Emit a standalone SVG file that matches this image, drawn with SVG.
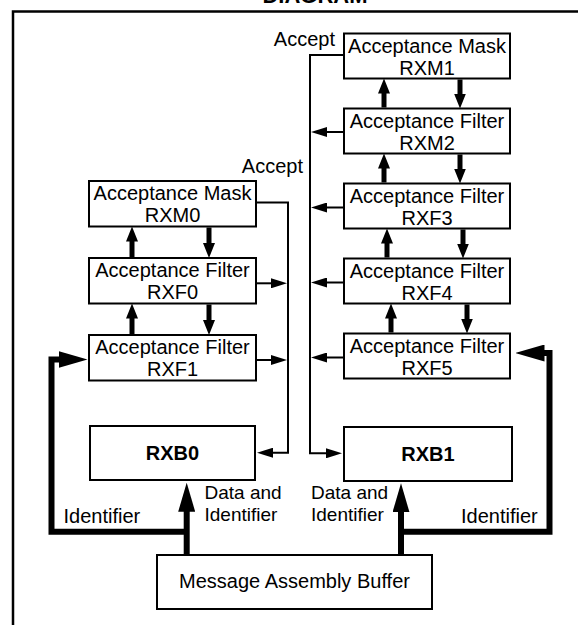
<svg xmlns="http://www.w3.org/2000/svg" width="578" height="625" viewBox="0 0 578 625">
<style>
text{font-family:"Liberation Sans",Arial,Helvetica,sans-serif;font-size:20px;fill:#000}
.c{text-anchor:middle}
.e{text-anchor:end}
.b{font-weight:bold}
.s{font-size:19px}
.box{fill:#fff;stroke:#000;stroke-width:2}
.thin{fill:none;stroke:#000;stroke-width:2}
.bold{fill:none;stroke:#000;stroke-width:5}
.thick{fill:none;stroke:#000;stroke-width:6;stroke-linejoin:miter}
.frame{fill:none;stroke:#000;stroke-width:2.5}
</style>
<defs>
<marker id="mThin" markerUnits="userSpaceOnUse" markerWidth="16" markerHeight="10" viewBox="0 0 16 10" refX="8" refY="5" orient="auto"><path d="M0,0 L16,5 L0,10 z"/></marker>
<marker id="mBold" markerUnits="userSpaceOnUse" markerWidth="15" markerHeight="12" viewBox="0 0 15 12" refX="7" refY="6" orient="auto"><path d="M0,0 L15,6 L0,12 z"/></marker>
<marker id="mThick" markerUnits="userSpaceOnUse" markerWidth="29" markerHeight="17" viewBox="0 0 29 17" refX="15" refY="8.5" orient="auto"><path d="M0,0 L29,8.5 L0,17 z"/></marker>
</defs>

<text class="c b" x="315" y="2.5" style="font-size:22px">DIAGRAM</text>
<path class="frame" d="M13,625 V11.5 H578"/>

<g id="connectors">
  <!-- right column bold arrows -->
  <line class="bold" x1="384" y1="107.5" x2="384" y2="86.5" marker-end="url(#mBold)"/>
  <line class="bold" x1="460" y1="79.5" x2="460" y2="100.5" marker-end="url(#mBold)"/>
  <line class="bold" x1="384" y1="182.5" x2="384" y2="161.5" marker-end="url(#mBold)"/>
  <line class="bold" x1="460" y1="154.5" x2="460" y2="175.5" marker-end="url(#mBold)"/>
  <line class="bold" x1="387" y1="257.5" x2="387" y2="236.5" marker-end="url(#mBold)"/>
  <line class="bold" x1="463" y1="229.5" x2="463" y2="250.5" marker-end="url(#mBold)"/>
  <line class="bold" x1="391" y1="332.5" x2="391" y2="311.5" marker-end="url(#mBold)"/>
  <line class="bold" x1="467" y1="304.5" x2="467" y2="325.5" marker-end="url(#mBold)"/>
  <!-- left column bold arrows -->
  <line class="bold" x1="132" y1="257" x2="132" y2="234.5" marker-end="url(#mBold)"/>
  <line class="bold" x1="209" y1="227.5" x2="209" y2="250" marker-end="url(#mBold)"/>
  <line class="bold" x1="132" y1="334" x2="132" y2="311.5" marker-end="url(#mBold)"/>
  <line class="bold" x1="209" y1="304.5" x2="209" y2="327" marker-end="url(#mBold)"/>
  <!-- accept bus for RXB1 -->
  <path class="thin" d="M343,55 H310 V453.3 H334" marker-end="url(#mThin)"/>
  <line class="thin" x1="343" y1="132" x2="319" y2="132" marker-end="url(#mThin)"/>
  <line class="thin" x1="343" y1="207.5" x2="319" y2="207.5" marker-end="url(#mThin)"/>
  <line class="thin" x1="343" y1="282.5" x2="319" y2="282.5" marker-end="url(#mThin)"/>
  <line class="thin" x1="343" y1="357.5" x2="319" y2="357.5" marker-end="url(#mThin)"/>
  <!-- accept bus for RXB0 -->
  <path class="thin" d="M257,202.5 H288 V452.7 H265" marker-end="url(#mThin)"/>
  <line class="thin" x1="257" y1="283.3" x2="279" y2="283.3" marker-end="url(#mThin)"/>
  <line class="thin" x1="257" y1="360" x2="279" y2="360" marker-end="url(#mThin)"/>
  <!-- thick data/identifier paths -->
  <line class="thick" x1="186.7" y1="554" x2="186.7" y2="496.7" marker-end="url(#mThick)"/>
  <path class="thick" d="M186.7,531.7 H51.5 V359.5 H73.5" marker-end="url(#mThick)"/>
  <line class="thick" x1="401" y1="554" x2="401" y2="497.3" marker-end="url(#mThick)"/>
  <path class="thick" d="M401,531.7 H549.5 V353 H529.5" marker-end="url(#mThick)"/>
</g>

<g id="rxm1"><rect class="box" x="344" y="33.5" width="166" height="45"/><text class="c" x="427" y="52.5">Acceptance Mask</text><text class="c" x="427" y="74.5">RXM1</text></g>
<g id="rxm2"><rect class="box" x="344" y="108.5" width="166" height="45"/><text class="c" x="427" y="127.5">Acceptance Filter</text><text class="c" x="427" y="149.5">RXM2</text></g>
<g id="rxf3"><rect class="box" x="344" y="183.5" width="166" height="45"/><text class="c" x="427" y="202.5">Acceptance Filter</text><text class="c" x="427" y="224.5">RXF3</text></g>
<g id="rxf4"><rect class="box" x="344" y="258.5" width="166" height="45"/><text class="c" x="427" y="277.5">Acceptance Filter</text><text class="c" x="427" y="299.5">RXF4</text></g>
<g id="rxf5"><rect class="box" x="344" y="333.5" width="166" height="45"/><text class="c" x="427" y="352.5">Acceptance Filter</text><text class="c" x="427" y="374.5">RXF5</text></g>

<g id="rxm0"><rect class="box" x="89" y="181" width="167" height="45.5"/><text class="c" x="172.5" y="200">Acceptance Mask</text><text class="c" x="172.5" y="222">RXM0</text></g>
<g id="rxf0"><rect class="box" x="89" y="258" width="167" height="45.5"/><text class="c" x="172.5" y="277">Acceptance Filter</text><text class="c" x="172.5" y="299">RXF0</text></g>
<g id="rxf1"><rect class="box" x="89" y="335" width="167" height="45.5"/><text class="c" x="172.5" y="354">Acceptance Filter</text><text class="c" x="172.5" y="376">RXF1</text></g>

<g id="rxb0"><rect class="box" x="90" y="426" width="165" height="54"/><text class="c b" x="172.5" y="460">RXB0</text></g>
<g id="rxb1"><rect class="box" x="344" y="427" width="168" height="54"/><text class="c b" x="428" y="460.5">RXB1</text></g>
<g id="mab"><rect class="box" x="157" y="555" width="275" height="54"/><text class="c" x="294.5" y="588">Message Assembly Buffer</text></g>

<g id="labels">
  <text class="e" x="335" y="46">Accept</text>
  <text class="e" x="303" y="173">Accept</text>
  <text x="63.5" y="523">Identifier</text>
  <text class="s" x="204.5" y="499">Data and</text>
  <text class="s" x="204.5" y="520.5">Identifier</text>
  <text class="s" x="311" y="499">Data and</text>
  <text class="s" x="311" y="520.5">Identifier</text>
  <text x="461" y="522.5">Identifier</text>
</g>
</svg>
